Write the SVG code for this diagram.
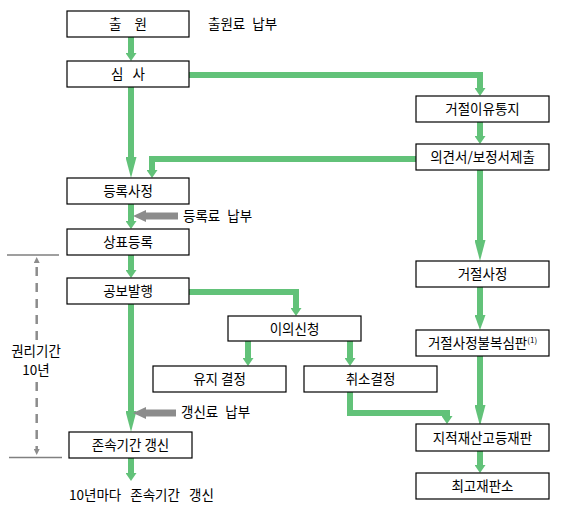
<svg xmlns="http://www.w3.org/2000/svg" width="572" height="517" viewBox="0 0 572 517">
<style>
.box{fill:#fff;stroke:#000;stroke-width:1.2}
.t{font-family:"Noto Sans CJK KR","Noto Sans",sans-serif;font-size:13.5px;fill:#000}
.c{text-anchor:middle}
.g{fill:none;stroke:#62c279;stroke-width:6}
.gr{fill:none;stroke:#8c8c8c;stroke-width:7}
</style>
<defs>
<marker id="sm" viewBox="0 0 8 11" refX="0" refY="5.5" markerWidth="8" markerHeight="11" markerUnits="userSpaceOnUse" orient="auto"><path d="M0,0L8,5.5L0,11z" fill="#62c279"/></marker>
<marker id="md" viewBox="0 0 15 11" refX="0" refY="5.5" markerWidth="15" markerHeight="11" markerUnits="userSpaceOnUse" orient="auto"><path d="M0,0L15,5.5L0,11z" fill="#62c279"/></marker>
<marker id="lg" viewBox="0 0 21 11" refX="0" refY="5.5" markerWidth="21" markerHeight="11" markerUnits="userSpaceOnUse" orient="auto"><path d="M0,0L21,5.5L0,11z" fill="#62c279"/></marker>
<marker id="ga" viewBox="0 0 13 12" refX="0" refY="6" markerWidth="13" markerHeight="12" markerUnits="userSpaceOnUse" orient="auto"><path d="M0,0L13,6L0,12z" fill="#8c8c8c"/></marker>
<marker id="da" viewBox="0 0 6 6" refX="0" refY="3" markerWidth="6" markerHeight="6" markerUnits="userSpaceOnUse" orient="auto"><path d="M0,0L6,3L0,6z" fill="#8c8c8c"/></marker>
</defs>
<g id="connectors">
<path class="g" d="M131,37V53" marker-end="url(#sm)"/>
<path class="g" d="M131,87V157" marker-end="url(#lg)"/>
<path class="g" d="M189,75H480V88" marker-end="url(#sm)"/>
<path class="g" d="M480,122V136" marker-end="url(#sm)"/>
<path class="g" d="M416,159H152V170" marker-end="url(#sm)"/>
<path class="g" d="M480,170V240" marker-end="url(#lg)"/>
<path class="g" d="M131,204V221" marker-end="url(#sm)"/>
<path class="g" d="M131,255V270" marker-end="url(#sm)"/>
<path class="g" d="M189,292H296V308" marker-end="url(#sm)"/>
<path class="g" d="M131,304V411" marker-end="url(#lg)"/>
<path class="g" d="M131,458V473" marker-end="url(#sm)"/>
<path class="g" d="M248,341V358" marker-end="url(#sm)"/>
<path class="g" d="M350,341V358" marker-end="url(#sm)"/>
<path class="g" d="M350,392V413H447V416" marker-end="url(#sm)"/>
<path class="g" d="M480,287V315" marker-end="url(#md)"/>
<path class="g" d="M480,356V405" marker-end="url(#lg)"/>
<path class="g" d="M480,451V465" marker-end="url(#sm)"/>
<path class="gr" d="M178,216H146" marker-end="url(#ga)"/>
<path class="gr" d="M176,413H146" marker-end="url(#ga)"/>
</g>
<g id="period">
<path d="M7,255H59M9,457.5H62" stroke="#808080" stroke-width="1.5" fill="none"/>
<path d="M36.7,340V263" stroke="#8c8c8c" stroke-width="2.5" stroke-dasharray="9,7" fill="none" marker-end="url(#da)"/>
<path d="M36.7,382V449" stroke="#8c8c8c" stroke-width="2.5" stroke-dasharray="9,7" fill="none" marker-end="url(#da)"/>
<text class="t c" x="36" y="356" font-size="12.5">권리기간</text>
<text class="t c" x="36" y="375" font-size="12.5">10년</text>
</g>
<g id="n1"><rect class="box" x="67" y="11" width="122" height="26"/><text class="t c" x="128" y="29" word-spacing="10">출 원</text></g>
<g id="n2"><rect class="box" x="67" y="61" width="122" height="26"/><text class="t c" x="128" y="79" word-spacing="6">심 사</text></g>
<g id="n3"><rect class="box" x="416" y="96" width="133" height="26"/><text class="t c" x="482.5" y="114">거절이유통지</text></g>
<g id="n4"><rect class="box" x="416" y="144" width="133" height="26"/><text class="t c" x="482.5" y="162">의견서/보정서제출</text></g>
<g id="n5"><rect class="box" x="67" y="178" width="122" height="26"/><text class="t c" x="128" y="196">등록사정</text></g>
<g id="n6"><rect class="box" x="67" y="229" width="122" height="26"/><text class="t c" x="128" y="247">상표등록</text></g>
<g id="n7"><rect class="box" x="67" y="278" width="122" height="26"/><text class="t c" x="128" y="296">공보발행</text></g>
<g id="n8"><rect class="box" x="416" y="261" width="133" height="26"/><text class="t c" x="482.5" y="279">거절사정</text></g>
<g id="n9"><rect class="box" x="228" y="316" width="133" height="25"/><text class="t c" x="294.5" y="333.5">이의신청</text></g>
<g id="n10"><rect class="box" x="416" y="330" width="133" height="26"/><text class="t c" x="482.5" y="348">거절사정불복심판<tspan font-size="8" dy="-5">(1)</tspan></text></g>
<g id="n11"><rect class="box" x="153" y="366" width="133" height="26"/><text class="t c" x="219.5" y="384">유지 결정</text></g>
<g id="n12"><rect class="box" x="304" y="366" width="133" height="26"/><text class="t c" x="370.5" y="384">취소결정</text></g>
<g id="n13"><rect class="box" x="416" y="424" width="133" height="27"/><text class="t c" x="482.5" y="442.5">지적재산고등재판</text></g>
<g id="n14"><rect class="box" x="416" y="473" width="133" height="26"/><text class="t c" x="482.5" y="491">최고재판소</text></g>
<g id="n15"><rect class="box" x="69" y="432" width="123" height="26"/><text class="t c" x="130.5" y="450">존속기간 갱신</text></g>
<g id="labels">
<text class="t" x="208" y="29" word-spacing="4">출원료 납부</text>
<text class="t" x="183" y="221" word-spacing="4">등록료 납부</text>
<text class="t" x="181" y="417" word-spacing="4">갱신료 납부</text>
<text class="t" x="69" y="500" word-spacing="6">10년마다 존속기간 갱신</text>
</g>
</svg>
